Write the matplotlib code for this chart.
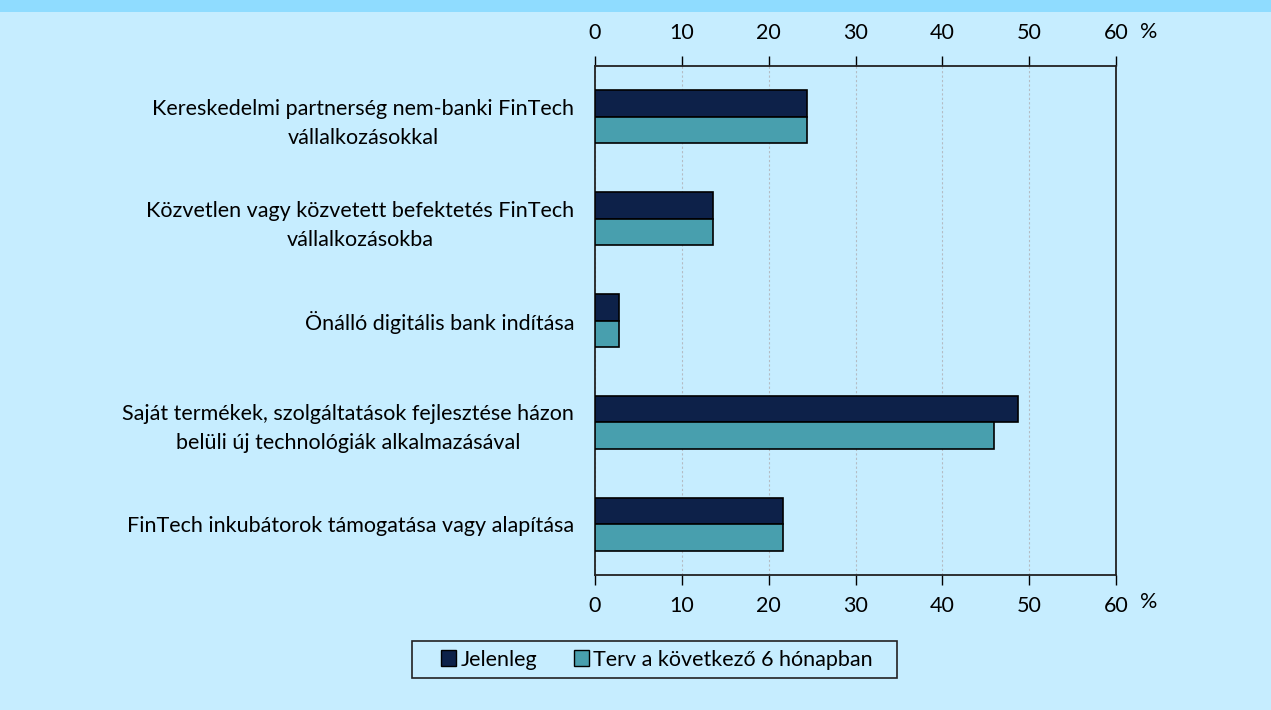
import numpy as np
import matplotlib.pyplot as plt
from matplotlib.patches import Rectangle

plt.rcParams['font.family'] = ['Lato', 'DejaVu Sans']

# Data
categories = [
    "Kereskedelmi partnerség nem-banki FinTech\nvállalkozásokkal",
    "Közvetlen vagy közvetett befektetés FinTech\nvállalkozásokba",
    "Önálló digitális bank indítása",
    "Saját termékek, szolgáltatások fejlesztése házon\nbelüli új technológiák alkalmazásával",
    "FinTech inkubátorok támogatása vagy alapítása",
]
jelenleg = [24.4, 13.6, 2.8, 48.7, 21.7]
terv = [24.4, 13.6, 2.8, 46.0, 21.7]
series_names = ["Jelenleg", "Terv a következő 6 hónapban"]
xticks = [0, 10, 20, 30, 40, 50, 60]

bg = '#c6edff'
dark = '#0d2149'
teal = '#489fae'
fs = 15.5

fig = plt.figure(figsize=(12.71, 7.10), dpi=100, facecolor=bg)
# top strip
fig.patches.append(Rectangle((0, 1 - 12 / 710), 1, 12 / 710, transform=fig.transFigure,
                             facecolor='#8fdcff', edgecolor='none', zorder=0))

ax = fig.add_axes([595 / 1271, 1 - 575 / 710, 521 / 1271, 509 / 710])
ax.set_facecolor(bg)

y = np.arange(len(categories))
h = 0.26
ax.barh(y - h / 2, jelenleg, height=h, color=dark, edgecolor='black', linewidth=1.2,
        label=series_names[0], zorder=3)
ax.barh(y + h / 2, terv, height=h, color=teal, edgecolor='black', linewidth=1.2,
        label=series_names[1], zorder=3)

ax.set_xlim(0, 60)
ax.set_ylim(len(categories) - 0.5, -0.5)
ax.set_xticks(xticks)
ax.set_yticks(y)
ax.set_yticklabels(categories, fontsize=fs, linespacing=1.55, multialignment='center')
ax.tick_params(axis='y', length=0, pad=15)
ax.tick_params(axis='x', direction='out', length=7, labelsize=fs, pad=8, width=1)
ax.grid(axis='x', color='#b4bcc4', linestyle=(0, (2, 2)), linewidth=0.8, zorder=0)

top = ax.secondary_xaxis('top')
top.set_xticks(xticks)
top.tick_params(direction='out', length=7, labelsize=fs, pad=9.5, width=1)
top.spines['top'].set_visible(False)

for sp in ax.spines.values():
    sp.set_color('#222222')
    sp.set_linewidth(1.3)

# percent signs
fig.text(1140 / 1271, 1 - 32 / 710, '%', fontsize=fs, va='center', ha='left')
fig.text(1140 / 1271, 1 - 602 / 710, '%', fontsize=fs, va='center', ha='left')

# legend box drawn separately, legend entries without frame
fig.patches.append(Rectangle((412 / 1271, 1 - 678 / 710), 485 / 1271, 37 / 710,
                             transform=fig.transFigure, facecolor=bg, edgecolor='#222222',
                             linewidth=1.2, zorder=4))
leg = fig.legend(loc='center', bbox_to_anchor=(657 / 1271, 1 - 659.5 / 710), ncol=2,
                 fontsize=fs, frameon=False, handlelength=0.7, handleheight=0.7,
                 handletextpad=0.2, columnspacing=1.7, borderpad=0.2, borderaxespad=0)
leg.set_zorder(5)
for lh in leg.legend_handles:
    lh.set_edgecolor('black')
    lh.set_linewidth(1.0)

fig.savefig('out.png', dpi=100, facecolor=bg)
